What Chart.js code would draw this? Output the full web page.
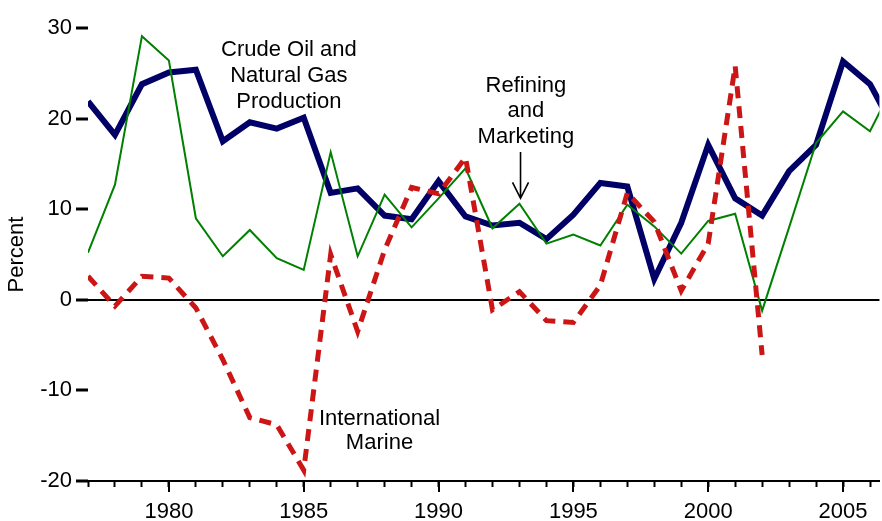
<!DOCTYPE html>
<html>
<head>
<meta charset="utf-8">
<script src="https://cdn.jsdelivr.net/npm/chart.js@4.4.1/dist/chart.umd.min.js"></script>
<style>
  html, body { margin: 0; padding: 0; background: #fff; }
  #wrap { width: 882px; height: 521px; position: relative; }
</style>
</head>
<body>
<div id="wrap"><canvas id="chartCanvas"></canvas></div>
<script>
// Datos (porcentaje)
const years = [1977, 1978, 1979, 1980, 1981, 1982, 1983, 1984, 1985, 1986,
  1987, 1988, 1989, 1990, 1991, 1992, 1993, 1994, 1995, 1996,
  1997, 1998, 1999, 2000, 2001, 2002, 2003, 2004, 2005, 2006, 2007];
const crudeOilGas = [21.9, 18.2, 23.8, 25.1, 25.4, 17.5, 19.6, 18.9, 20.1, 11.8,
  12.3, 9.3, 8.9, 13.1, 9.2, 8.2, 8.5, 6.7, 9.4, 12.9,
  12.5, 2.3, 8.5, 17.1, 11.2, 9.3, 14.2, 17.1, 26.3, 23.8, 18.3];
const refiningMarketing = [5.2, 12.7, 29.1, 26.4, 9.0, 4.8, 7.7, 4.6, 3.3, 16.3,
  4.8, 11.6, 8.0, 11.2, 14.5, 7.9, 10.6, 6.2, 7.2, 6.0,
  10.5, 8.1, 5.1, 8.7, 9.5, -1.2, 8.0, 17.3, 20.8, 18.6, 24.5];
// International Marine termina en 2002
const internationalMarine = [2.6, -0.7, 2.6, 2.4, -0.9, -6.6, -13.0, -13.8, -18.8, 5.0,
  -3.5, 5.5, 12.4, 11.7, 15.7, -1.1, 0.9, -2.3, -2.5, 1.6,
  11.8, 8.6, 1.0, 6.2, 25.8, -6.1];
const yTicks = [-20, -10, 0, 10, 20, 30];

const FONT = "'Liberation Sans', Arial, Helvetica, sans-serif";

function toPoints(values) {
  return values.map((v, i) => ({ x: years[i], y: v }));
}

// Marcas largas cada 5 anos y notas de texto
const extrasPlugin = {
  id: "extras",
  afterDraw(chart) {
    const ctx = chart.ctx;
    const xs = chart.scales.x;
    const ys = chart.scales.y;
    const area = chart.chartArea;

    ctx.save();
    ctx.strokeStyle = "#000";
    ctx.lineWidth = 2;
    for (let yr = Math.ceil(xs.min); yr <= xs.max; yr++) {
      if (yr % 5 !== 0) continue;
      const px = Math.round(xs.getPixelForValue(yr));
      ctx.beginPath();
      ctx.moveTo(px, area.bottom);
      ctx.lineTo(px, area.bottom + 11);
      ctx.stroke();
    }

    ctx.fillStyle = "#000";
    ctx.font = "22px " + FONT;
    ctx.textAlign = "center";
    ctx.textBaseline = "middle";
    const notes = [
      { lines: ["Crude Oil and", "Natural Gas", "Production"], x: 1984.45, y: 27.6, gap: 26 },
      { lines: ["Refining", "and", "Marketing"], x: 1993.24, y: 23.6, gap: 25.3 },
      { lines: ["International", "Marine"], x: 1987.81, y: -13.2, gap: 24 }
    ];
    notes.forEach(n => {
      const cx = xs.getPixelForValue(n.x);
      const cy = ys.getPixelForValue(n.y);
      n.lines.forEach((t, i) => ctx.fillText(t, cx, cy + i * n.gap));
    });

    // Flecha hacia Refining and Marketing
    const ax = xs.getPixelForValue(1993.04);
    const a0 = ys.getPixelForValue(16.3);
    const a1 = ys.getPixelForValue(11.2);
    ctx.lineWidth = 1.6;
    ctx.beginPath();
    ctx.moveTo(ax, a0);
    ctx.lineTo(ax, a1);
    ctx.moveTo(ax - 8, a1 - 16);
    ctx.lineTo(ax, a1);
    ctx.lineTo(ax + 8, a1 - 16);
    ctx.stroke();
    ctx.restore();
  }
};

const ctx = document.getElementById("chartCanvas").getContext("2d");

const chart = new Chart(ctx, {
  type: "line",
  data: {
    datasets: [
      {
        label: "International Marine",
        data: toPoints(internationalMarine),
        borderColor: "#cc1616",
        borderWidth: 5,
        borderDash: [12, 8],
        pointRadius: 0,
        fill: false,
        tension: 0
      },
      {
        label: "Refining and Marketing",
        data: toPoints(refiningMarketing),
        borderColor: "#008000",
        borderWidth: 2,
        pointRadius: 0,
        fill: false,
        tension: 0
      },
      {
        label: "Crude Oil and Natural Gas Production",
        data: toPoints(crudeOilGas),
        borderColor: "#000066",
        borderWidth: 6,
        pointRadius: 0,
        fill: false,
        tension: 0
      }
    ]
  },
  options: {
    responsive: true,
    maintainAspectRatio: false,
    animation: false,
    layout: { padding: { top: 28, right: 0, bottom: 0, left: 0 } },
    plugins: {
      legend: { display: false },
      tooltip: { enabled: false }
    },
    scales: {
      x: {
        type: "linear",
        min: 1977,
        max: 2006.35,
        afterFit(scale) { scale.height = 40; },
        afterBuildTicks(scale) {
          const t = [];
          for (let yr = 1977; yr <= 2006; yr++) t.push({ value: yr });
          scale.ticks = t;
        },
        border: { display: true, color: "#000", width: 2 },
        grid: {
          display: true,
          drawOnChartArea: false,
          drawTicks: true,
          tickLength: 6,
          tickColor: "#000",
          tickWidth: 2
        },
        ticks: {
          autoSkip: false,
          maxRotation: 0,
          padding: 12,
          color: "#000",
          font: { family: FONT, size: 22 },
          callback: v => (v % 5 === 0 ? String(v) : "")
        }
      },
      y: {
        min: -20,
        max: 30,
        afterFit(scale) { scale.width = 88; },
        afterBuildTicks(scale) {
          scale.ticks = yTicks.map(v => ({ value: v }));
        },
        border: { display: false },
        grid: {
          drawOnChartArea: true,
          drawTicks: true,
          tickLength: 12,
          tickColor: "#000",
          tickWidth: 3,
          lineWidth: 2,
          color: c => (c.tick && c.tick.value === 0 ? "#000" : "rgba(0,0,0,0)")
        },
        ticks: {
          padding: 4,
          color: "#000",
          font: { family: FONT, size: 22 }
        },
        title: {
          display: true,
          text: "Percent",
          color: "#000",
          font: { family: FONT, size: 22 },
          padding: { top: 4, bottom: 0 }
        }
      }
    }
  },
  plugins: [extrasPlugin]
});
</script>
</body>
</html>
